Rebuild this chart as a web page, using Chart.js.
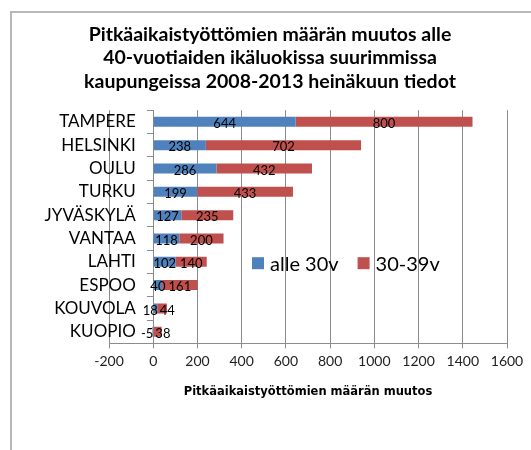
<!DOCTYPE html>
<html>
<head>
<meta charset="utf-8">
<script src="https://cdn.jsdelivr.net/npm/chart.js@4.4.1/dist/chart.umd.min.js"></script>
<style>
  body { margin: 0; background: #fff; }
  #wrap { position: relative; width: 531px; height: 450px; }
  #frame { position: absolute; left: 10px; top: 11px; right: -5px; bottom: -5px;
           border-left: 2px solid #b8b8b8; border-top: 2px solid #b8b8b8; }
  canvas { position: absolute; left: 0; top: 0; }
</style>
</head>
<body>
<div id="wrap"><div id="frame"></div><canvas id="myChart"></canvas></div>
<script>
const cities = ["TAMPERE", "HELSINKI", "OULU", "TURKU", "JYVÄSKYLÄ", "VANTAA", "LAHTI", "ESPOO", "KOUVOLA", "KUOPIO"];
const under30 = [644, 238, 286, 199, 127, 118, 102, 40, 18, -5];
const age30to39 = [800, 702, 432, 433, 235, 200, 140, 161, 44, 38];
const seriesNames = ["alle 30v", "30-39v"];
const barColors = ["#4F81BD", "#C0504D"];

// numbers in the middle of every bar segment, pushed apart when they collide
const barLabels = {
  id: "barLabels",
  afterDatasetsDraw(chart) {
    const ctx = chart.ctx;
    ctx.save();
    ctx.font = "13px Lato";
    ctx.fillStyle = "#000";
    ctx.textAlign = "center";
    ctx.textBaseline = "middle";
    chart.data.labels.forEach((c, j) => {
      const items = chart.data.datasets.map((ds, i) => {
        const p = chart.getDatasetMeta(i).data[j].getCenterPoint();
        const txt = String(ds.data[j]);
        return { txt, x: p.x, y: p.y, w: ctx.measureText(txt).width };
      }).sort((a, b) => a.x - b.x);
      for (let k = 1; k < items.length; k++) {
        const a = items[k - 1], b = items[k];
        const overlap = (a.x + a.w / 2 + 2) - (b.x - b.w / 2);
        if (overlap > 0) { a.x -= overlap / 2; b.x += overlap / 2; }
      }
      items.forEach(it => ctx.fillText(it.txt, it.x, it.y + 2));
    });
    ctx.restore();
  }
};

// legend sits inside the plot, like in the excel picture
const insideLegend = {
  id: "insideLegend",
  afterDraw(chart) {
    const ctx = chart.ctx;
    const a = chart.chartArea;
    const y = a.top + 153;
    let x = a.left + 143;
    ctx.save();
    ctx.font = "20px Lato";
    ctx.textBaseline = "middle";
    chart.data.datasets.forEach((ds) => {
      ctx.fillStyle = ds.backgroundColor;
      ctx.fillRect(x, y - 6, 12, 12);
      ctx.fillStyle = "#000";
      ctx.fillText(ds.label, x + 18, y + 1);
      x += 18 + ctx.measureText(ds.label).width + 19;
    });
    ctx.restore();
  }
};

new Chart("myChart", {
  type: "bar",
  data: {
    labels: cities,
    datasets: [
      { label: seriesNames[0], data: under30, backgroundColor: barColors[0] },
      { label: seriesNames[1], data: age30to39, backgroundColor: barColors[1] }
    ]
  },
  options: {
    indexAxis: "y",
    responsive: true,
    maintainAspectRatio: false,
    animation: false,
    datasets: { bar: { barPercentage: 0.43, categoryPercentage: 1 } },
    layout: { padding: { left: 33, right: 24, top: 0, bottom: 47 } },
    scales: {
      x: {
        stacked: true,
        min: -200,
        max: 1600,
        ticks: { stepSize: 200, color: "#222", font: { family: "Lato", size: 14 }, padding: 5,
                 callback: (v) => String(v) },
        grid: { color: "#8c8c8c", tickLength: 5, tickColor: "#8c8c8c" },
        border: { color: "#8c8c8c" },
        title: {
          display: true,
          text: "Pitkäaikaistyöttömien määrän muutos",
          color: "#000",
          font: { family: "DejaVu Sans", size: 11.5, weight: "bold" },
          padding: { top: 10 }
        },
        // the layout padding already leaves room for the end labels
        afterFit: (s) => { s.paddingLeft = 0; s.paddingRight = 0; }
      },
      y: {
        stacked: true,
        position: { x: 0 },
        // trailing spaces keep the names off the axis (padding is ignored for a positioned axis)
        ticks: { color: "#000", font: { family: "Lato", size: 17 }, autoSkip: false,
                 callback: (v, i) => cities[i] + "    " },
        grid: { offset: true, drawOnChartArea: false, tickLength: 6, color: "#8c8c8c" },
        border: { color: "#8c8c8c" }
      },
      // empty strip on the left so the plot starts where the excel one does
      yPad: {
        type: "category",
        position: "left",
        ticks: { display: false },
        grid: { display: false },
        border: { display: false },
        afterFit: (s) => { s.width = 76; }
      }
    },
    plugins: {
      legend: { display: false },
      tooltip: { enabled: false },
      title: {
        display: true,
        text: ["Pitkäaikaistyöttömien määrän muutos alle", "40-vuotiaiden ikäluokissa suurimmissa", "kaupungeissa 2008-2013 heinäkuun tiedot"],
        color: "#000",
        font: { family: "Lato", size: 19.5, weight: "bold", lineHeight: 1.2 },
        padding: { top: 23, bottom: 17 }
      }
    }
  },
  plugins: [barLabels, insideLegend]
});
</script>
</body>
</html>
